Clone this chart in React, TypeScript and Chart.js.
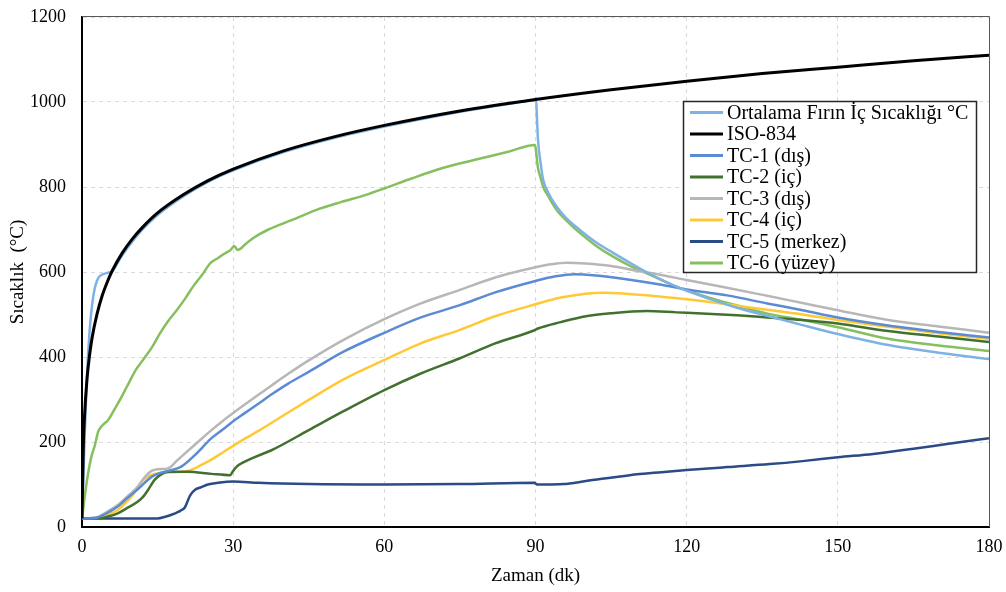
import { useEffect, useRef } from "react";
import { Chart, registerables } from "chart.js";

Chart.register(...registerables);

const FONT = "'Liberation Serif', 'Times New Roman', serif";

// Axis ticks
const xTickValues = [0, 30, 60, 90, 120, 150, 180];
const yTickValues = [0, 200, 400, 600, 800, 1000, 1200];

// Series labels (legend order)
const seriesLabels = [
  "Ortalama Fırın İç Sıcaklığı °C",
  "ISO-834",
  "TC-1 (dış)",
  "TC-2 (iç)",
  "TC-3 (dış)",
  "TC-4 (iç)",
  "TC-5 (merkez)",
  "TC-6 (yüzey)",
];

// Average furnace temperature
const furnaceTime = [0, 0.5, 1, 1.5, 2, 2.5, 3, 3.5, 4, 5, 6, 8, 10, 12, 15, 20, 25, 30, 40, 50, 60, 70, 80, 85, 88, 89.9, 90.1, 90.3, 90.5, 91, 91.5, 92.5, 94, 96, 98.8, 102, 105.4, 109, 112, 118.7, 125, 130, 136, 143, 150, 160, 170, 180];
const furnaceTemp = [20, 200, 360, 460, 522, 560, 580, 590, 594, 598, 602, 640, 672, 700, 734, 777, 812, 839, 882, 915, 942, 966, 987, 996, 1002, 1005, 1009, 960, 910, 858, 818, 787, 757, 728, 699, 670, 645, 620, 600, 562, 535, 516, 497, 475, 454, 428, 410, 395];

// ISO-834 standard fire curve
const isoTime = [0, 0.25, 0.5, 1, 1.5, 2, 3, 4, 5, 6, 8, 10, 12, 15, 20, 25, 30, 40, 50, 60, 75, 90, 105, 120, 135, 150, 165, 180];
const isoTemp = [20, 185, 261, 349, 404, 445, 502, 544, 576, 603, 645, 678, 705, 739, 781, 815, 842, 885, 918, 945, 979, 1006, 1029, 1049, 1067, 1082, 1097, 1110];

// TC-1 (dış)
const tc1Time = [0, 2, 3.2, 5, 7.1, 9, 11.1, 13.8, 15.5, 17.1, 19.7, 22.4, 25.7, 28, 30, 32.3, 35, 37.5, 41, 45, 52, 60, 67, 75, 82, 90, 94, 97.8, 102, 108, 115, 120, 128, 136, 143, 150, 160, 170, 180];
const tc1Temp = [20, 21, 23, 33, 48, 68, 89, 118, 127, 132, 142, 169, 209, 230, 249, 268, 290, 311, 338, 365, 413, 457, 492, 522, 552, 579, 590, 595, 592, 583, 570, 559, 545, 526, 510, 493, 474, 459, 446];

// TC-2 (iç)
const tc2Time = [0, 3.2, 5, 7.1, 9, 11.1, 12.2, 13.1, 14.4, 15.5, 17.1, 21, 25.7, 29.4, 30, 30.7, 32, 35, 37.5, 45, 52, 60, 67, 75, 82, 89.8, 90.5, 95, 100, 105, 112, 118, 124, 130, 136, 143, 150, 160, 170, 180];
const tc2Temp = [20, 20, 24, 32, 45, 60, 72, 87, 111, 122, 130, 130, 125, 122, 132, 142, 152, 168, 180, 228, 273, 322, 360, 397, 432, 463, 467, 482, 496, 503, 508, 505, 502, 498, 493, 487, 479, 461, 448, 435];

// TC-3 (dış)
const tc3Time = [0, 2, 3.2, 5, 7.1, 9, 11.1, 12.5, 13.8, 15, 17.1, 19, 21, 23, 25.7, 28, 30, 32.3, 35, 37.5, 41, 45, 52, 60, 67, 75, 82, 90, 93, 96.2, 100, 105, 110, 115, 120, 128, 136, 143, 150, 160, 170, 180];
const tc3Temp = [20, 21, 24, 36, 52, 72, 95, 118, 132, 136, 138, 158, 179, 200, 228, 250, 268, 288, 311, 332, 361, 392, 441, 489, 525, 558, 587, 611, 618, 622, 620, 614, 603, 593, 581, 563, 544, 527, 510, 487, 472, 457];

// TC-4 (iç)
const tc4Time = [0, 2, 3.2, 5, 7.1, 8.5, 9.8, 11, 11.8, 13, 14.4, 17.1, 21, 23.7, 26, 28, 30, 32.5, 35, 37.5, 41, 45, 52, 60, 67, 75, 82, 90, 95, 100, 103.4, 108, 115, 120, 128, 136, 143, 150, 160, 170, 180];
const tc4Temp = [20, 20, 21, 28, 40, 55, 71, 92, 107, 118, 125, 128, 132, 146, 161, 176, 191, 209, 226, 244, 270, 299, 348, 393, 431, 464, 496, 524, 540, 549, 551, 549, 542, 536, 524, 511, 500, 487, 471, 456, 443];

// TC-5 (merkez)
const tc5Time = [0, 10, 15, 16.5, 18, 18.8, 19.5, 20.4, 21, 21.5, 22.5, 23.5, 25, 27, 30, 35, 45, 60, 75, 89.8, 90.3, 92, 95.5, 100, 108.7, 115, 120, 128, 136.5, 143, 150, 157, 165, 172, 180];
const tc5Temp = [20, 20, 20, 24, 30, 34, 38, 46, 62, 75, 88, 93, 100, 104, 107, 104, 101, 100, 101, 104, 100, 100, 101, 108, 122, 129, 134, 141, 148, 155, 164, 172, 184, 196, 209];

// TC-6 (yüzey)
const tc6Time = [0, 0.9, 1.85, 2.5, 3.2, 3.8, 5.2, 6.5, 7.8, 8.9, 10.8, 12.1, 14, 15.5, 17, 18.8, 20.5, 22, 24, 25.4, 27, 28.4, 29.5, 30.2, 30.9, 31.5, 32.3, 34, 37, 41.6, 46.9, 51.5, 56.2, 60.1, 65.4, 71.4, 78, 84.6, 89.9, 90.1, 90.45, 91, 91.5, 92.5, 94.2, 96.5, 98.8, 102, 105.4, 109, 112.1, 118.7, 125, 130, 136, 143, 150, 160, 170, 180];
const tc6Temp = [20, 103, 165, 190, 224, 236, 252, 278, 305, 330, 372, 393, 425, 456, 483, 510, 538, 565, 596, 620, 633, 644, 652, 661, 652, 655, 664, 680, 700, 722, 748, 765, 781, 797, 820, 844, 864, 883, 899, 885, 848, 822, 801, 779, 746, 717, 692, 662, 636, 613, 597, 562, 538, 521, 502, 487, 470, 443, 427, 414];

const seriesColors = ["#7EB2E4", "#000000", "#5B8BD5", "#42702F", "#B7B7B7", "#FFC935", "#2A4B86", "#85BF5E"];
const seriesWidths = [2.5, 3, 2.5, 2.5, 2.5, 2.5, 2.5, 2.5];

const pair = (xs: number[], ys: number[]) => xs.map((x, i) => ({ x, y: ys[i] }));

const seriesData = [
  pair(furnaceTime, furnaceTemp),
  pair(isoTime, isoTemp),
  pair(tc1Time, tc1Temp),
  pair(tc2Time, tc2Temp),
  pair(tc3Time, tc3Temp),
  pair(tc4Time, tc4Temp),
  pair(tc5Time, tc5Temp),
  pair(tc6Time, tc6Temp),
];

// Thin frame on the top and right of the plot area
const framePlugin = {
  id: "plotFrame",
  afterDatasetsDraw(chart: any) {
    const { ctx, chartArea: a } = chart;
    ctx.save();
    ctx.strokeStyle = "#595959";
    ctx.lineWidth = 1;
    ctx.beginPath();
    ctx.moveTo(a.left, a.top - 0.5);
    ctx.lineTo(a.right + 0.5, a.top - 0.5);
    ctx.lineTo(a.right + 0.5, a.bottom);
    ctx.stroke();
    ctx.restore();
  },
};

// Boxed legend inside the plot area
const boxLegendPlugin = {
  id: "boxLegend",
  afterDraw(chart: any) {
    const { ctx } = chart;
    const bx = 683.5;
    const by = 101.5;
    const bw = 293;
    const bh = 171;
    ctx.save();
    ctx.fillStyle = "#ffffff";
    ctx.fillRect(bx, by, bw, bh);
    ctx.strokeStyle = "#262626";
    ctx.lineWidth = 1.5;
    ctx.strokeRect(bx, by, bw, bh);
    ctx.font = `20px ${FONT}`;
    ctx.textBaseline = "middle";
    ctx.textAlign = "left";
    chart.data.datasets.forEach((ds: any, i: number) => {
      const cy = 112.5 + i * 21.5;
      ctx.strokeStyle = ds.borderColor;
      ctx.lineWidth = 3;
      ctx.beginPath();
      ctx.moveTo(690, cy);
      ctx.lineTo(723, cy);
      ctx.stroke();
      ctx.fillStyle = "#000000";
      ctx.fillText(ds.label, 727, cy + 1);
    });
    ctx.restore();
  },
};

export default function App() {
  const canvasRef = useRef<HTMLCanvasElement>(null);

  useEffect(() => {
    const canvas = canvasRef.current;
    if (!canvas) return;
    const chart = new Chart(canvas, {
      type: "line",
      data: {
        datasets: seriesLabels.map((label, i) => ({
          label,
          data: seriesData[i],
          borderColor: seriesColors[i],
          backgroundColor: seriesColors[i],
          borderWidth: seriesWidths[i],
          pointRadius: 0,
          pointHoverRadius: 0,
          fill: false,
          cubicInterpolationMode: "monotone" as const,
          order: i === 1 ? 0 : i + 1,
        })),
      },
      options: {
        responsive: false,
        animation: false,
        devicePixelRatio: 1,
        layout: { padding: { left: 0, right: 17, top: 17, bottom: 0 } },
        plugins: {
          legend: { display: false },
          tooltip: { enabled: false },
        },
        scales: {
          x: {
            type: "linear",
            min: 0,
            max: 180,
            afterBuildTicks: (s: any) => {
              s.ticks = xTickValues.map((value) => ({ value }));
            },
            afterFit: (s: any) => {
              s.height = 65;
              s.paddingLeft = 0;
              s.paddingRight = 0;
            },
            ticks: {
              font: { family: FONT, size: 18 },
              color: "#000000",
              padding: 9,
              maxRotation: 0,
              callback: (v: any) => String(v),
            },
            grid: { color: "#D9D9D9", lineWidth: 1, drawTicks: false },
            border: { display: true, color: "#000000", width: 2, dash: [4, 4] },
            title: {
              display: true,
              text: "Zaman (dk)",
              font: { family: FONT, size: 19 },
              color: "#000000",
              padding: { top: 0, bottom: 5 },
            },
          },
          y: {
            type: "linear",
            min: 0,
            max: 1200,
            afterBuildTicks: (s: any) => {
              s.ticks = yTickValues.map((value) => ({ value }));
            },
            afterFit: (s: any) => {
              s.width = 82;
              s.paddingTop = 0;
              s.paddingBottom = 0;
            },
            ticks: {
              font: { family: FONT, size: 18 },
              color: "#000000",
              padding: 16,
              callback: (v: any) => String(v),
            },
            grid: { color: "#D9D9D9", lineWidth: 1, drawTicks: false },
            border: { display: true, color: "#000000", width: 2, dash: [4, 4] },
            title: {
              display: true,
              text: "Sıcaklık  (°C)",
              font: { family: FONT, size: 19 },
              color: "#000000",
              padding: { top: 7, bottom: 0 },
            },
          },
        },
      },
      plugins: [framePlugin, boxLegendPlugin],
    });
    return () => chart.destroy();
  }, []);

  return (
    <div style={{ position: "absolute", left: 0, top: 0, width: 1006, height: 592, background: "#ffffff" }}>
      <canvas ref={canvasRef} width={1006} height={592} style={{ display: "block" }} />
    </div>
  );
}
